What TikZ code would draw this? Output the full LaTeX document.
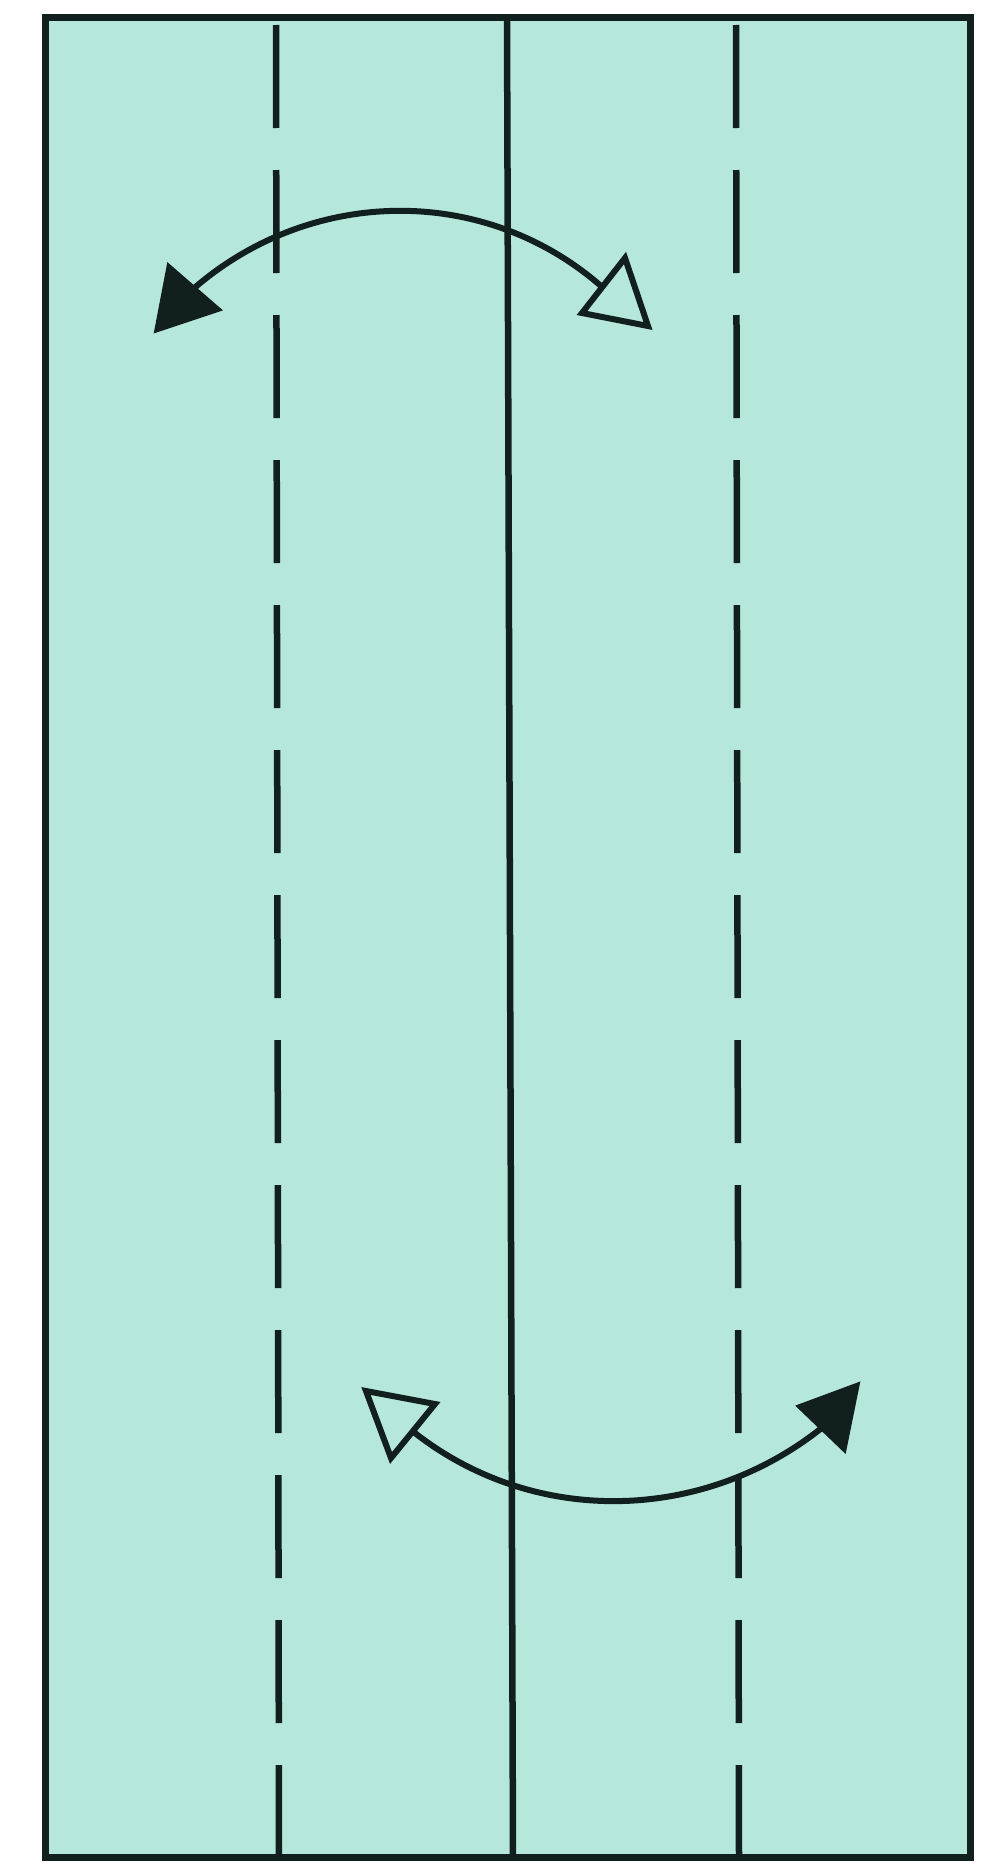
\documentclass[tikz,border=0pt]{standalone}
\definecolor{paper}{RGB}{182,231,219}
\definecolor{ink}{RGB}{18,32,29}
\tikzset{
  foldline/.style={draw=ink, line width=6.5pt},
  valley/.style={foldline, dash pattern=on 103pt off 42pt},
  swing/.style={draw=ink, line width=6pt},
  headfull/.style={fill=ink, draw=ink, line width=2pt, line join=miter},
  headopen/.style={fill=paper, draw=ink, line width=6pt, line join=miter}
}
\begin{document}
\begin{tikzpicture}[x=1pt,y=-1pt]
\useasboundingbox (0,0) rectangle (1003,1871);
% paper sheet
\coordinate (tl) at (45,17);
\coordinate (br) at (970,1857);
\fill[paper] (tl) rectangle (br);
% fold lines
\coordinate (lt) at (276,25);   \coordinate (lb) at (279,1857);
\coordinate (rt) at (736,25);   \coordinate (rb) at (739,1857);
\coordinate (ct) at (507,17);   \coordinate (cb) at (513,1857);
\draw[valley] (lt) -- (lb);
\draw[valley] (rt) -- (rb);
\draw[foldline] (ct) -- (cb);
% top swing arrow
\coordinate (a1) at (192,290);
\coordinate (a2) at (601,286);
\draw[swing] (a1) .. controls (309.5,186.6) and (483.5,183.6) .. (a2);
\coordinate (h1t) at (155,332);
\coordinate (h1a) at (168,264);
\coordinate (h1b) at (221,310);
\path[headfull] (h1t) -- (h1a) -- (h1b) -- cycle;
\coordinate (h2t) at (648,326);
\coordinate (h2a) at (625,258);
\coordinate (h2b) at (582,313);
\path[headopen] (h2t) -- (h2a) -- (h2b) -- cycle;
% bottom swing arrow
\coordinate (b1) at (413,1431.5);
\coordinate (b2) at (821,1428.5);
\draw[swing] (b1) .. controls (532.6,1526.3) and (701.4,1523.3) .. (b2);
\coordinate (h3t) at (366,1391);
\coordinate (h3a) at (435,1404);
\coordinate (h3b) at (391,1458);
\path[headopen] (h3t) -- (h3a) -- (h3b) -- cycle;
\coordinate (h4t) at (859,1383);
\coordinate (h4a) at (797,1406);
\coordinate (h4b) at (845,1452);
\path[headfull] (h4t) -- (h4a) -- (h4b) -- cycle;
% border
\draw[draw=ink, line width=7pt] (tl) rectangle (br);
\end{tikzpicture}
\end{document}
